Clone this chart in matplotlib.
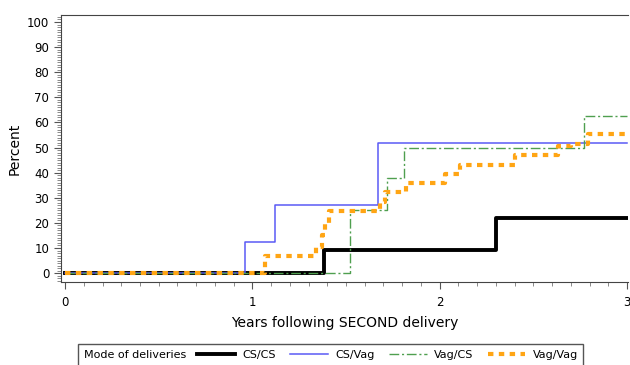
import numpy as np
import matplotlib
matplotlib.use('Agg')
import matplotlib.pyplot as plt
from matplotlib.patches import Rectangle
from matplotlib.ticker import MultipleLocator

# step data (years, percent), step changes at each x
cs_cs_x = [0, 1.38, 2.30, 3.0]
cs_cs_y = [0, 9.2, 22.0, 22.0]

cs_vag_x = [0, 0.96, 1.12, 1.67, 3.0]
cs_vag_y = [0, 12.3, 27.1, 51.7, 51.7]

vag_cs_x = [0, 1.52, 1.72, 1.81, 2.77, 3.0]
vag_cs_y = [0, 25.1, 37.7, 49.8, 62.6, 62.6]

vag_vag_x = [0, 1.07, 1.34, 1.37, 1.39, 1.41, 1.68, 1.71, 1.82, 2.03, 2.11,
             2.40, 2.63, 2.70, 2.79, 3.0]
vag_vag_y = [0, 6.8, 10.5, 15.0, 20.0, 24.8, 28.5, 32.2, 35.7, 39.3, 43.0,
             46.9, 50.5, 51.5, 55.4, 55.4]

labels = ['CS/CS', 'CS/Vag', 'Vag/CS', 'Vag/Vag']

fig = plt.figure(figsize=(6.3, 3.65), dpi=100)
ax = fig.add_axes([0.097, 0.227, 0.900, 0.732])

l1, = ax.step(cs_cs_x, cs_cs_y, where='post', color='black', lw=2.8)
l2, = ax.step(cs_vag_x, cs_vag_y, where='post', color='#5a5af5', lw=1.1)
l3, = ax.step(vag_cs_x, vag_cs_y, where='post', color='#4f9f4f', lw=1.0,
              dashes=(7, 2, 1.5, 2))
l4, = ax.step(vag_vag_x, vag_vag_y, where='post', color='#ffa514', lw=3.0,
              dashes=(1.3, 1.3))

ax.set_xlim(-0.021, 3.006)
ax.set_ylim(-3.6, 102.8)
ax.set_xticks([0, 1, 2, 3])
ax.set_yticks(np.arange(0, 101, 10))
ax.xaxis.set_minor_locator(MultipleLocator(0.1))
ax.yaxis.set_minor_locator(MultipleLocator(1))
ax.tick_params(which='major', length=5, width=0.8, labelsize=8.5, color='#555555')
ax.tick_params(which='minor', length=3, width=0.6, color='#777777')
ax.tick_params(axis='x', pad=5)
ax.spines['right'].set_visible(False)
for s in ['left', 'bottom', 'top']:
    ax.spines[s].set_color('#444444')

ax.set_xlabel('Years following SECOND delivery', fontsize=10, labelpad=5)
ax.set_ylabel('Percent', fontsize=10, labelpad=4)

# legend box below the axes
fig.patches.append(Rectangle((78 / 630, -0.05), (583 - 78) / 630, (365 - 344) / 365 + 0.05,
                             transform=fig.transFigure, fill=False,
                             edgecolor='#555555', lw=1.0))
fig.text(84 / 630, 1 - 355 / 365, 'Mode of deliveries', fontsize=8,
         va='center', ha='left')
fig.legend([l1, l2, l3, l4], labels, ncol=4, frameon=False, fontsize=8,
           loc='center left', bbox_to_anchor=(197 / 630, 1 - 355 / 365),
           handlelength=3.4, handletextpad=0.7, columnspacing=1.25,
           borderaxespad=0, borderpad=0)

fig.savefig('out.png', dpi=100)
